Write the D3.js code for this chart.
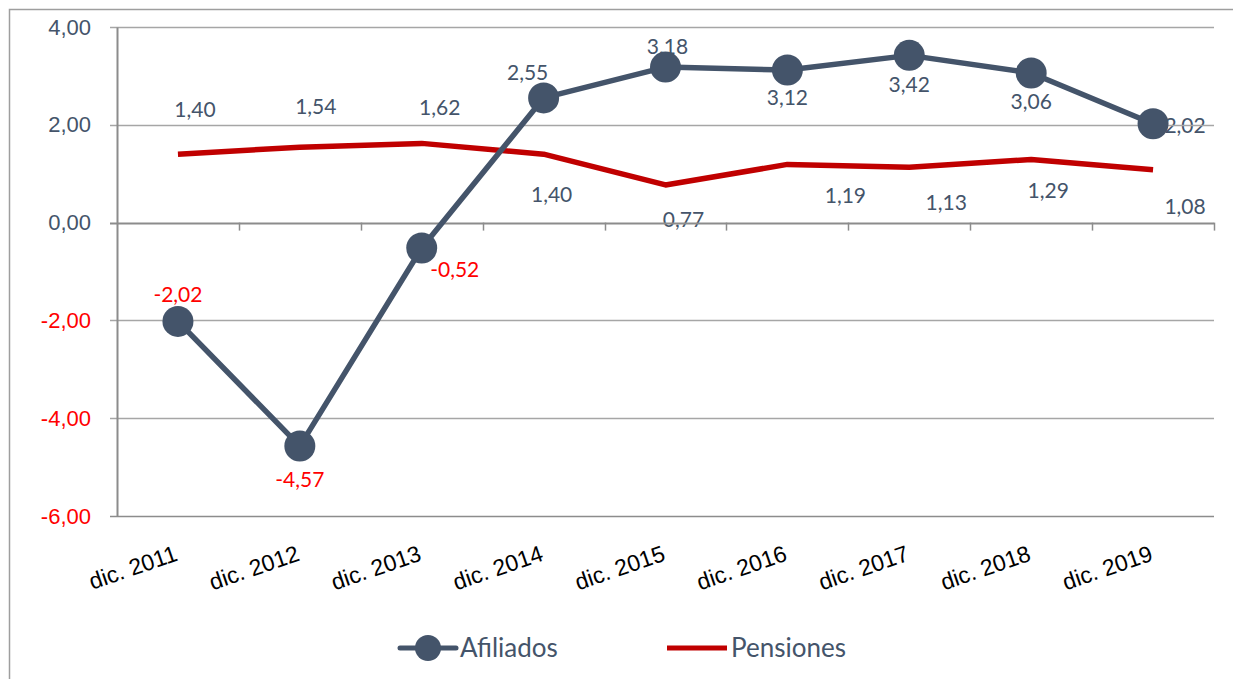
<!DOCTYPE html>
<html>
<head>
<meta charset="utf-8">
<script src="https://cdn.jsdelivr.net/npm/d3@7"></script>
<style>
  body { margin: 0; background: #fff; }
  svg { display: block; }
</style>
</head>
<body>
<div id="chart"></div>
<script>
// Chart data
const categories = ["dic. 2011", "dic. 2012", "dic. 2013", "dic. 2014", "dic. 2015",
                    "dic. 2016", "dic. 2017", "dic. 2018", "dic. 2019"];
const afiliados = [-2.02, -4.57, -0.52, 2.55, 3.18, 3.12, 3.42, 3.06, 2.02];
const pensiones = [1.40, 1.54, 1.62, 1.40, 0.77, 1.19, 1.13, 1.29, 1.08];
const yTicks = [4, 2, 0, -2, -4, -6];

// Label placement (offsets in px from the point)
const afiliadosLabelPos = [[0, -28], [0, 32], [33, 20], [-16, -26], [2, -22], [0, 26], [0, 28], [0, 28], [32, 1]];
const pensionesLabelPos = [[17, -46], [16, -42], [18, -37], [8, 39], [18, 34], [58, 30], [37, 34], [17, 30], [32, 36]];

const W = 1233, H = 679;
const margin = { top: 27, right: 19, bottom: 163, left: 117 };
const width = W - margin.left - margin.right,
      height = H - margin.top - margin.bottom;

const slate = "#44546A", red = "#C00000", grid = "#a6a6a6";
const fmt = v => d3.format(".2f")(v).replace(".", ",").replace("\u2212", "-");

const root = d3.select("#chart")
  .append("svg")
  .attr("width", W)
  .attr("height", H);

// Outer chart border
root.append("path")
  .attr("d", `M9.5,${H} V9.5 H${W}`)
  .attr("fill", "none")
  .attr("stroke", "#9e9e9e")
  .attr("stroke-width", 1.5);

const svg = root.append("g")
  .attr("transform", `translate(${margin.left},${margin.top})`);

const x = d3.scaleBand().domain(categories).range([0, width]);
const y = d3.scaleLinear().domain([-6, 4]).range([height, 0]);
const cx = d => x(d) + x.bandwidth() / 2;

// Data labels (drawn first, marks cover them as in the original)
const labelFont = "Lato, 'Open Sans', sans-serif";
svg.append("g").selectAll("text")
  .data(pensiones)
  .join("text")
  .attr("x", (d, i) => cx(categories[i]) + pensionesLabelPos[i][0])
  .attr("y", (d, i) => y(d) + pensionesLabelPos[i][1])
  .attr("text-anchor", "middle")
  .attr("dominant-baseline", "central")
  .attr("font-family", labelFont)
  .attr("font-size", 21)
  .attr("fill", d => d < 0 ? "#FF0000" : slate)
  .text(fmt);

svg.append("g").selectAll("text")
  .data(afiliados)
  .join("text")
  .attr("x", (d, i) => cx(categories[i]) + afiliadosLabelPos[i][0])
  .attr("y", (d, i) => y(d) + afiliadosLabelPos[i][1])
  .attr("text-anchor", "middle")
  .attr("dominant-baseline", "central")
  .attr("font-family", labelFont)
  .attr("font-size", 21)
  .attr("fill", d => d < 0 ? "#FF0000" : slate)
  .text(fmt);

// Gridlines
svg.append("g")
  .selectAll("line")
  .data(yTicks)
  .join("line")
  .attr("x1", -7)
  .attr("x2", width)
  .attr("y1", d => Math.round(y(d)) + 0.5)
  .attr("y2", d => Math.round(y(d)) + 0.5)
  .attr("stroke", d => d === 0 || d === -6 ? "#8c8c8c" : grid)
  .attr("stroke-width", d => d === 0 ? 2 : 1.5);

// Y axis
const yAxis = svg.append("g")
  .call(d3.axisLeft(y).tickValues(yTicks).tickSize(0).tickPadding(26).tickFormat(fmt));
yAxis.select(".domain").attr("stroke", "#8c8c8c").attr("stroke-width", 2);
yAxis.selectAll("text")
  .attr("font-family", "'Liberation Sans', Arial, sans-serif")
  .attr("font-size", 22)
  .attr("fill", d => d < 0 ? "#FF0000" : slate);

// Category tick marks on the zero line
svg.append("g")
  .selectAll("line")
  .data(categories)
  .join("line")
  .attr("x1", d => Math.round(x(d) + x.bandwidth()) + 0.5)
  .attr("x2", d => Math.round(x(d) + x.bandwidth()) + 0.5)
  .attr("y1", y(0))
  .attr("y2", y(0) + 8)
  .attr("stroke", "#8c8c8c")
  .attr("stroke-width", 1.5);

// X axis labels, rotated
const xAxis = svg.append("g")
  .attr("transform", `translate(0,${height})`)
  .call(d3.axisBottom(x).tickSize(0).tickPadding(0));
xAxis.select(".domain").remove();
xAxis.selectAll("text")
  .attr("font-family", "'Liberation Sans', Arial, sans-serif")
  .attr("font-size", 23)
  .attr("fill", "#000")
  .attr("text-anchor", "end")
  .attr("dy", 0)
  .attr("transform", "translate(1,44) rotate(-19)");

// Pensiones line
const line = d3.line()
  .x((d, i) => cx(categories[i]))
  .y(d => y(d));

svg.append("path")
  .datum(pensiones)
  .attr("fill", "none")
  .attr("stroke", red)
  .attr("stroke-width", 5.5)
  .attr("stroke-linejoin", "round")
  .attr("d", line);

// Afiliados line and markers
svg.append("path")
  .datum(afiliados)
  .attr("fill", "none")
  .attr("stroke", slate)
  .attr("stroke-width", 5.5)
  .attr("stroke-linejoin", "round")
  .attr("d", line);

svg.append("g")
  .selectAll("circle")
  .data(afiliados)
  .join("circle")
  .attr("cx", (d, i) => cx(categories[i]))
  .attr("cy", d => y(d))
  .attr("r", 15.5)
  .attr("fill", slate);

// Legend
const legend = root.append("g").attr("transform", "translate(0,648)");
legend.append("line")
  .attr("x1", 400).attr("x2", 456)
  .attr("stroke", slate).attr("stroke-width", 5).attr("stroke-linecap", "round");
legend.append("circle")
  .attr("cx", 428).attr("r", 13).attr("fill", slate);
legend.append("text")
  .attr("x", 460).attr("dy", "0.36em")
  .attr("font-family", labelFont).attr("font-size", 26).attr("fill", slate)
  .text("Afiliados");
legend.append("line")
  .attr("x1", 667).attr("x2", 727)
  .attr("stroke", red).attr("stroke-width", 5);
legend.append("text")
  .attr("x", 731).attr("dy", "0.36em")
  .attr("font-family", labelFont).attr("font-size", 26).attr("fill", slate)
  .text("Pensiones");
</script>
</body>
</html>
